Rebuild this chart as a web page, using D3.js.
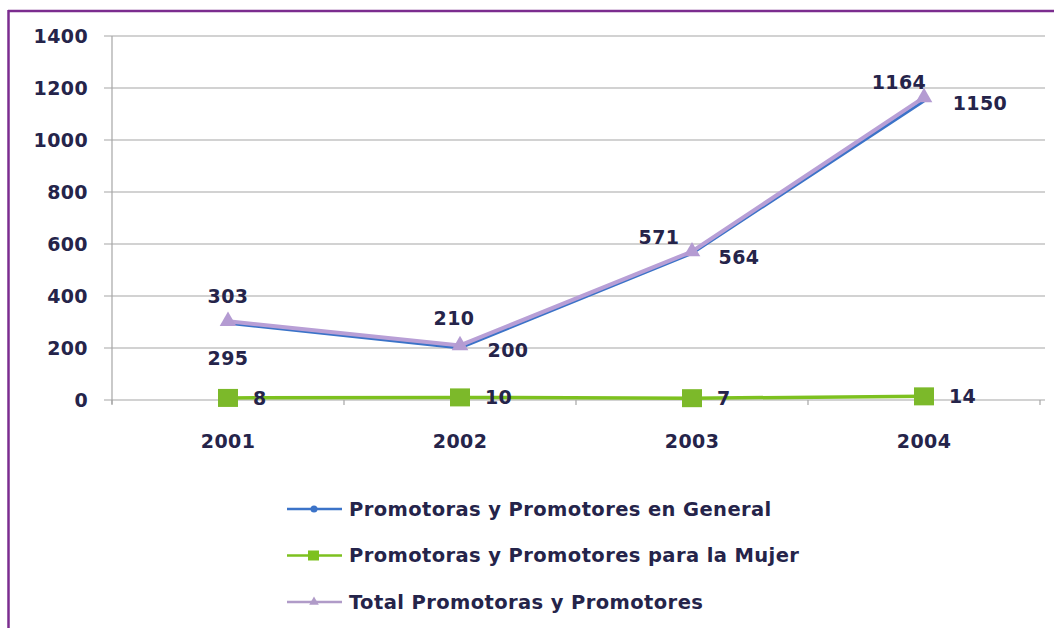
<!DOCTYPE html>
<html><head><meta charset="utf-8">
<script src="https://cdn.jsdelivr.net/npm/d3@7"></script>
<style>
html,body{margin:0;padding:0;background:#fff;}
svg{display:block;}
text{font-family:"DejaVu Sans",sans-serif;font-weight:bold;fill:#25244a;letter-spacing:0.4px;}
</style></head>
<body>
<svg id="chart" width="1054" height="628"></svg>
<script>
const years = ["2001","2002","2003","2004"];
const general = [295, 200, 564, 1150];
const mujer = [8, 10, 7, 14];
const total = [303, 210, 571, 1164];
const yTicks = [0,200,400,600,800,1000,1200,1400];
const seriesNames = ["Promotoras y Promotores en General","Promotoras y Promotores para la Mujer","Total Promotoras y Promotores"];

(function(){
const svg = d3.select("#chart");
const W = 1054, H = 628;
const pLeft = 112, pRight = 1040, pTop = 36, pBottom = 400;
const fs = "19px";

// frame
svg.append("line").attr("x1",8).attr("x2",W).attr("y1",11).attr("y2",11).attr("stroke","#7b2d8f").attr("stroke-width",2.5);
svg.append("line").attr("x1",8.5).attr("x2",8.5).attr("y1",10).attr("y2",H).attr("stroke","#7b2d8f").attr("stroke-width",2.5);

const x = d3.scaleBand().domain(years).range([pLeft,pRight]);
const y = d3.scaleLinear().domain([0,1400]).range([pBottom,pTop]);
const cx = d => x(d)+x.bandwidth()/2;

// gridlines
svg.append("g").selectAll("line").data(yTicks).join("line")
  .attr("x1",pLeft-8).attr("x2",1045)
  .attr("y1",d=>y(d)).attr("y2",d=>y(d))
  .attr("stroke","#a6a6a6").attr("stroke-width",1.2);

// y axis
const yAxis = d3.axisLeft(y).tickValues(yTicks).tickFormat(d3.format("d")).tickSize(0).tickPadding(24);
const gy = svg.append("g").attr("transform",`translate(${pLeft},0)`).call(yAxis);
gy.select(".domain").remove();
gy.selectAll("text").style("font-size",fs).attr("fill","#25244a");
svg.append("line").attr("x1",pLeft).attr("x2",pLeft).attr("y1",pTop).attr("y2",pBottom+4).attr("stroke","#a6a6a6").attr("stroke-width",1.2);

// x axis
const xAxis = d3.axisBottom(x).tickSize(0).tickPadding(35);
const gx = svg.append("g").attr("transform",`translate(0,${pBottom})`).call(xAxis);
gx.select(".domain").remove();
gx.selectAll("text").style("font-size",fs).attr("fill","#25244a");
svg.append("g").selectAll("line").data(years.concat(["end"])).join("line")
  .attr("x1",(d,i)=>pLeft+i*x.bandwidth()).attr("x2",(d,i)=>pLeft+i*x.bandwidth())
  .attr("y1",pBottom).attr("y2",pBottom+5).attr("stroke","#a6a6a6").attr("stroke-width",1.2);

const line = d3.line().x((d,i)=>cx(years[i])).y(d=>y(d));

// general (blue)
svg.append("path").datum(general).attr("d",line).attr("fill","none").attr("stroke","#3b73c8").attr("stroke-width",3);
// total (lilac)
svg.append("path").datum(total).attr("d",line).attr("fill","none").attr("stroke","#b89fd6").attr("stroke-width",4);
const tri = d3.symbol().type(d3.symbolTriangle).size(120);
svg.append("g").selectAll("path").data(total).join("path")
  .attr("d",tri).attr("transform",(d,i)=>`translate(${cx(years[i])},${y(d)})`).attr("fill","#b49bd2");
// mujer (green)
svg.append("path").datum(mujer).attr("d",line).attr("fill","none").attr("stroke","#7dc11f").attr("stroke-width",3.5);
svg.append("g").selectAll("rect").data(mujer).join("rect")
  .attr("x",(d,i)=>cx(years[i])-10).attr("y",d=>y(d)-9).attr("width",20).attr("height",18).attr("fill","#7cb92a");

// labels
const totalOff = [[0,-25],[-6,-27],[-33,-14],[-25,-15]];
const generalOff = [[0,35],[48,2],[47,4],[56,2]];
svg.append("g").selectAll("text").data(total).join("text")
  .attr("x",(d,i)=>cx(years[i])+totalOff[i][0]).attr("y",(d,i)=>y(d)+totalOff[i][1])
  .attr("text-anchor","middle").attr("dy","0.35em").style("font-size",fs).text(d=>d);
svg.append("g").selectAll("text").data(general).join("text")
  .attr("x",(d,i)=>cx(years[i])+generalOff[i][0]).attr("y",(d,i)=>y(d)+generalOff[i][1])
  .attr("text-anchor","middle").attr("dy","0.35em").style("font-size",fs).text(d=>d);
svg.append("g").selectAll("text").data(mujer).join("text")
  .attr("x",(d,i)=>cx(years[i])+25).attr("y",d=>y(d))
  .attr("text-anchor","start").attr("dy","0.35em").style("font-size",fs).text(d=>d);

// legend
const legColors = ["#3b73c8","#7dc11f","#b09bc8"];
const lg = svg.append("g");
seriesNames.forEach((name,i)=>{
  const ly = 509 + i*46.5;
  lg.append("line").attr("x1",287).attr("x2",342).attr("y1",ly).attr("y2",ly).attr("stroke",legColors[i]).attr("stroke-width",2.5);
  if(i===0) lg.append("circle").attr("cx",314).attr("cy",ly).attr("r",3.5).attr("fill",legColors[i]);
  if(i===1) lg.append("rect").attr("x",308).attr("y",ly-5).attr("width",11).attr("height",10).attr("fill",legColors[i]);
  if(i===2) lg.append("path").attr("d",d3.symbol().type(d3.symbolTriangle).size(40)).attr("transform",`translate(314,${ly})`).attr("fill",legColors[i]);
  lg.append("text").attr("x",349).attr("y",ly).attr("dy","0.35em").style("font-size","19.5px").text(name);
});
})();
</script>
</body></html>
